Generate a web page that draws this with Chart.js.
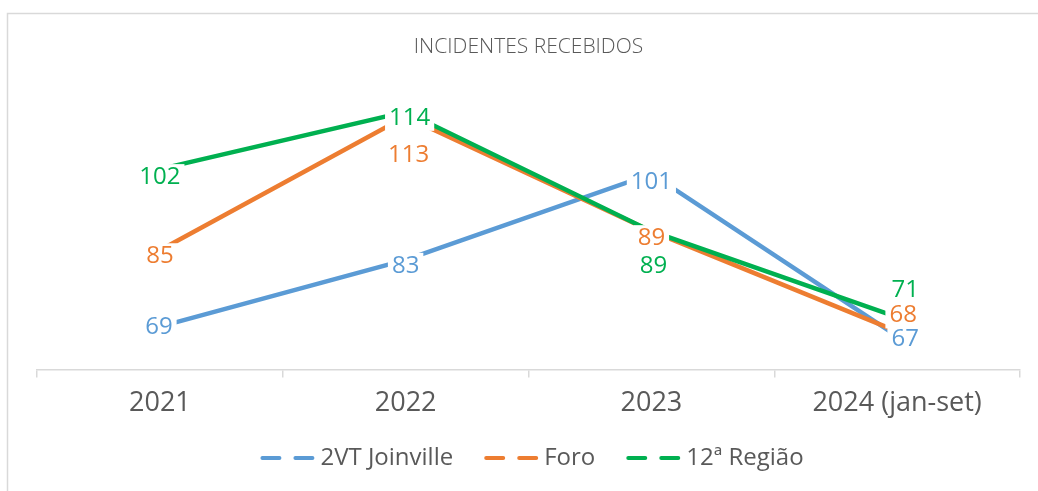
<!DOCTYPE html>
<html>
<head>
<meta charset="utf-8">
<script src="https://cdn.jsdelivr.net/npm/chart.js@4/dist/chart.umd.min.js"></script>
<style>
  body { margin: 0; background: #fff; }
  canvas { display: block; }
</style>
</head>
<body>
<canvas id="myChart" width="1038" height="491"></canvas>
<script>
// data
const years = ['2021', '2022', '2023', '2024 (jan-set)'];
const joinville = [69, 83, 101, 67];
const foro = [85, 113, 89, 68];
const regiao = [102, 114, 89, 71];

const blue = '#5B9BD5';
const orange = '#ED7D31';
const green = '#00B050';
const grey = '#595959';
const font = "'Open Sans', 'Noto Sans', sans-serif";

// where each value label sits relative to its point (px), per dataset
const labelShift = [
    [[-1, 1], [0, 6], [0, 8], [8, 3]],
    [[0, 6], [3, 39], [0, 7], [6, -16]],
    [[0, 8], [4, 6], [2, 35], [8, -27]]
];

// outer frame of the chart
const framePlugin = {
    id: 'frame',
    beforeDraw(chart) {
        const ctx = chart.ctx;
        ctx.save();
        ctx.strokeStyle = '#d9d9d9';
        ctx.lineWidth = 1.5;
        ctx.strokeRect(7.5, 13.5, 1200, 600);
        ctx.restore();
    }
};

// value labels with white box, like excel
const valueLabels = {
    id: 'valueLabels',
    afterDatasetsDraw(chart) {
        const ctx = chart.ctx;
        ctx.save();
        ctx.font = '24px ' + font;
        ctx.textAlign = 'center';
        ctx.textBaseline = 'middle';
        chart.data.datasets.forEach((ds, di) => {
            const meta = chart.getDatasetMeta(di);
            meta.data.forEach((pt, i) => {
                const txt = String(ds.data[i]);
                const x = pt.x + labelShift[di][i][0];
                const y = pt.y + labelShift[di][i][1];
                const w = ctx.measureText(txt).width + 8;
                ctx.fillStyle = '#fff';
                ctx.fillRect(x - w / 2, y - 13, w, 26);
                ctx.fillStyle = ds.borderColor;
                ctx.fillText(txt, x, y);
            });
        });
        ctx.restore();
    }
};

// legend drawn by hand: dashed marker, small gap, text
const dashLegend = {
    id: 'dashLegend',
    afterDraw(chart) {
        const ctx = chart.ctx;
        const mark = 55, gap = 5, space = 31, cy = 458;
        ctx.save();
        ctx.font = '24px ' + font;
        ctx.textBaseline = 'middle';
        const items = chart.data.datasets.map(ds => ({
            text: ds.label, color: ds.borderColor, w: ctx.measureText(ds.label).width
        }));
        let total = items.reduce((s, it) => s + mark + gap + it.w, 0) + space * (items.length - 1);
        let x = 532 - total / 2;
        items.forEach(it => {
            ctx.strokeStyle = it.color;
            ctx.lineWidth = 4;
            ctx.lineCap = 'round';
            ctx.setLineDash([17, 16]);
            ctx.beginPath();
            ctx.moveTo(x + 2, cy);
            ctx.lineTo(x + mark - 2, cy);
            ctx.stroke();
            ctx.setLineDash([]);
            ctx.fillStyle = grey;
            ctx.fillText(it.text, x + mark + gap, cy);
            x += mark + gap + it.w + space;
        });
        ctx.restore();
    }
};

function line(label, data, color, order) {
    return {
        label: label,
        data: data,
        borderColor: color,
        backgroundColor: color,
        borderWidth: 4.5,
        pointRadius: 0,
        tension: 0,
        order: order
    };
}

const ctx = document.getElementById('myChart').getContext('2d');
const chart = new Chart(ctx, {
    type: 'line',
    data: {
        labels: years,
        datasets: [
            line('2VT Joinville', joinville, blue, 3),
            line('Foro', foro, orange, 2),
            line('12ª Região', regiao, green, 1)
        ]
    },
    options: {
        responsive: false,
        animation: false,
        layout: { padding: { left: 37, right: 18, top: 0, bottom: 61 } },
        plugins: {
            title: {
                display: true,
                text: 'INCIDENTES RECEBIDOS',
                color: grey,
                font: { family: font, size: 21, weight: '300' },
                padding: { top: 34, bottom: 24 }
            },
            legend: { display: false },
            tooltip: { enabled: false }
        },
        scales: {
            x: {
                offset: true,
                grid: {
                    offset: true,
                    drawOnChartArea: false,
                    drawTicks: true,
                    tickLength: 8,
                    color: '#d9d9d9',
                    lineWidth: 1.5
                },
                border: { display: true, color: '#d9d9d9', width: 1.5 },
                ticks: { color: grey, font: { family: font, size: 27 }, padding: 10 }
            },
            y: {
                display: false,
                min: 60,
                max: 120
            }
        }
    },
    plugins: [framePlugin, valueLabels, dashLegend]
});
</script>
</body>
</html>
